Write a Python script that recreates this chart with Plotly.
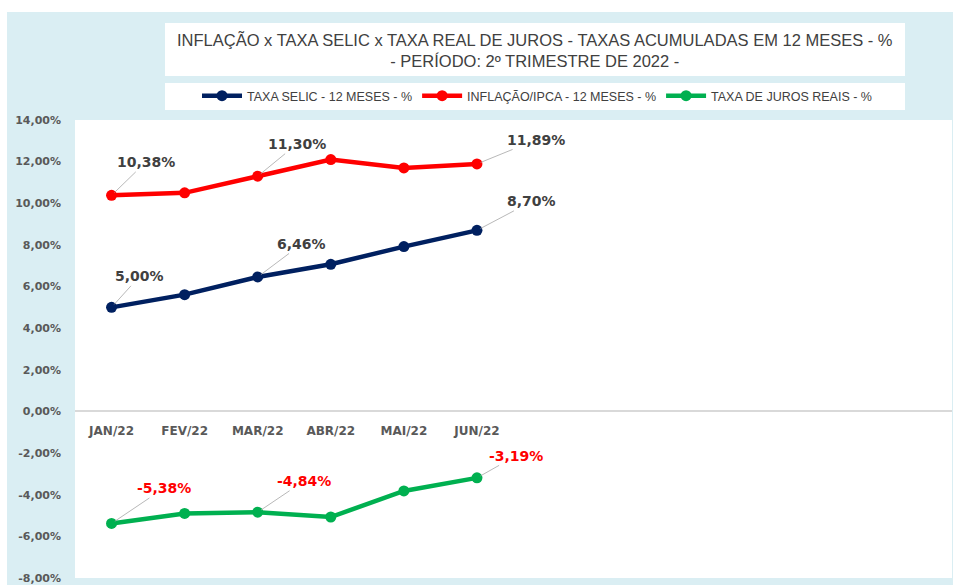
import plotly.graph_objects as go

months = ["JAN/22", "FEV/22", "MAR/22", "ABR/22", "MAI/22", "JUN/22"]
selic = [5.00, 5.61, 6.46, 7.07, 7.92, 8.70]
ipca = [10.38, 10.50, 11.30, 12.10, 11.70, 11.89]
real = [-5.38, -4.90, -4.84, -5.07, -3.82, -3.19]
ytick_vals = [-8, -6, -4, -2, 0, 2, 4, 6, 8, 10, 12, 14]
labeled_idx = [0, 2, 5]

W, H = 953, 585
L, R, T, B = 75, 1, 120, 7
PW, PH = W - L - R, H - T - B

def px2x(px):
    return (px - L) / PW

def py2y(py):
    return (H - B - py) / PH

def fmt(v):
    return f"{v:.2f}".replace(".", ",") + "%"

xs = list(range(len(months)))
fig = go.Figure()
series = [
    ("TAXA SELIC - 12 MESES - %", selic, "#002060"),
    ("INFLAÇÃO/IPCA - 12 MESES - %", ipca, "#FF0000"),
    ("TAXA DE JUROS REAIS - %", real, "#00B050"),
]
for name, vals, col in series:
    fig.add_trace(go.Scatter(
        x=xs, y=vals, name=name, mode="lines+markers",
        line=dict(color=col, width=4.5),
        marker=dict(color=col, size=11),
        hoverinfo="skip",
    ))

lbl_font = dict(family="DejaVu Sans", size=14, color="#404040")
red_font = dict(family="DejaVu Sans", size=14, color="#FF0000")
offsets = {
    "ipca": [(34, -33), (39, -32), (59, -24)],
    "selic": [(28, -31), (44, -33), (55, -29)],
    "real": [(52, -35), (46, -31), (39, -22)],
}
annotations = []
for key, vals, font in [("ipca", ipca, lbl_font), ("selic", selic, lbl_font), ("real", real, red_font)]:
    for k, i in enumerate(labeled_idx):
        ax, ay = offsets[key][k]
        annotations.append(dict(
            x=xs[i], y=vals[i], xref="x", yref="y", text="<b>" + fmt(vals[i]) + "</b>",
            showarrow=True, arrowhead=0, arrowwidth=0.8, arrowcolor="#A6A6A6",
            ax=ax, ay=ay, font=font, standoff=4,
        ))

annotations.append(dict(
    x=px2x(535), y=py2y(50), xref="paper", yref="paper",
    text="INFLAÇÃO x TAXA SELIC x TAXA REAL DE JUROS - TAXAS ACUMULADAS EM 12 MESES - %<br>- PERÍODO: 2º TRIMESTRE DE 2022 -",
    showarrow=False, font=dict(family="Liberation Sans, Arial, sans-serif", size=16.5, color="#404040"),
    align="center", xanchor="center", yanchor="middle",
))

shapes = [
    dict(type="rect", xref="paper", yref="paper", x0=px2x(0), x1=px2x(W), y0=py2y(12), y1=py2y(0),
         fillcolor="white", line=dict(width=0), layer="below"),
    dict(type="rect", xref="paper", yref="paper", x0=px2x(0), x1=px2x(7), y0=py2y(H), y1=py2y(0),
         fillcolor="white", line=dict(width=0), layer="below"),
    dict(type="rect", xref="paper", yref="paper", x0=px2x(165), x1=px2x(905), y0=py2y(76), y1=py2y(23),
         fillcolor="white", line=dict(width=0), layer="below"),
    dict(type="rect", xref="paper", yref="paper", x0=px2x(165), x1=px2x(905), y0=py2y(110), y1=py2y(83),
         fillcolor="white", line=dict(width=0), layer="below"),
]

fig.update_layout(
    width=W, height=H,
    margin=dict(l=L, r=R, t=T, b=B, autoexpand=False),
    paper_bgcolor="#DAEEF3",
    plot_bgcolor="white",
    showlegend=True,
    legend=dict(
        orientation="h", x=px2x(537), xanchor="center", y=py2y(96), yanchor="middle",
        bgcolor="rgba(0,0,0,0)",
        font=dict(family="Liberation Sans, Arial, sans-serif", size=12.5, color="#404040"),
        itemwidth=40,
    ),
    xaxis=dict(
        range=[-0.5, 11.5], tickvals=xs, ticktext=["<b>" + m + "</b>" for m in months],
        anchor="free", position=8 / 22, showgrid=False, zeroline=False, showline=False,
        ticks="", ticklabelstandoff=11, automargin=False,
        tickfont=dict(family="DejaVu Sans", size=12, color="#595959"),
    ),
    yaxis=dict(
        range=[-8, 14], tickvals=ytick_vals, ticktext=["<b>" + fmt(v) + "</b>" for v in ytick_vals],
        showgrid=False, zeroline=True, zerolinecolor="#D9D9D9", zerolinewidth=1.5,
        ticks="", ticklabelstandoff=13, automargin=False,
        tickfont=dict(family="DejaVu Sans", size=11, color="#595959"),
    ),
    annotations=annotations,
    shapes=shapes,
)

fig.write_html("out.html", config={"displayModeBar": False},
               post_script="document.body.style.margin='0';")
